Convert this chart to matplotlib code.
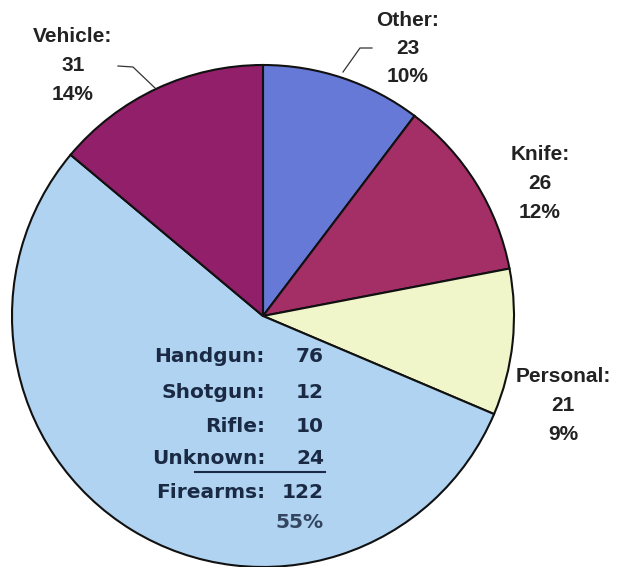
import matplotlib
matplotlib.use("Agg")
import matplotlib.pyplot as plt

# data
categories = ["Other", "Knife", "Personal", "Firearms", "Vehicle"]
counts = [23, 26, 21, 122, 31]
colors = ["#6679d6", "#a32f66", "#f0f6c9", "#afd3f1", "#911f69"]

firearm_types = ["Handgun", "Shotgun", "Rifle", "Unknown"]
firearm_counts = [76, 12, 10, 24]

W, H = 619, 567


def py(y):
    """pixel row (from top) -> data y"""
    return H - y


fig = plt.figure(figsize=(W / 100, H / 100), dpi=100)
ax = fig.add_axes([0, 0, 1, 1])

ax.pie(counts, colors=colors, startangle=90, counterclock=False,
       center=(263, py(316)), radius=251,
       wedgeprops=dict(edgecolor="#111111", linewidth=1.5))

ax.set_xlim(0, W)
ax.set_ylim(0, H)
ax.set_aspect("equal")
ax.axis("off")

total = sum(counts)

# slice labels (center x, top line y in pixels)
label_pos = {"Other": (408, 20), "Knife": (540, 155),
             "Personal": (563, 377), "Vehicle": (73, 37)}
for name, n in zip(categories, counts):
    if name not in label_pos:
        continue
    x, y = label_pos[name]
    lines = [f"{name}:", f"{n}", f"{round(n / total * 100):.0f}%"]
    for i, s in enumerate(lines):
        ax.text(x, py(y + i * 28.5), s, ha="center", va="center",
                fontsize=15, fontweight="bold", family="Liberation Sans",
                color="#222222")

# leader lines
ax.plot([372, 360, 343], [py(48), py(48), py(72)], color="#333333", lw=0.9)
ax.plot([118, 133, 155], [py(66), py(67), py(88)], color="#333333", lw=0.9)

# firearms breakdown
tc = "#1b2a44"
rows = [f"{t}:" for t in firearm_types] + ["Firearms:"]
vals = firearm_counts + [sum(firearm_counts)]
row_y = [357, 392, 426, 458, 492]
for s, v, y in zip(rows, vals, row_y):
    ax.text(265, py(y), s, ha="right", va="center", fontsize=14.5,
            fontweight="bold", family="DejaVu Sans", color=tc)
    ax.text(324, py(y), str(v), ha="right", va="center", fontsize=14.5,
            fontweight="bold", family="DejaVu Sans", color=tc)
ax.plot([195, 325], [py(472), py(472)], color=tc, lw=1.5)
fa = counts[categories.index("Firearms")]
ax.text(324, py(523), f"{round(fa / total * 100):.0f}%", ha="right",
        va="center", fontsize=14.5, fontweight="bold", family="DejaVu Sans",
        color="#34465f")

fig.savefig("out.png", dpi=100)
